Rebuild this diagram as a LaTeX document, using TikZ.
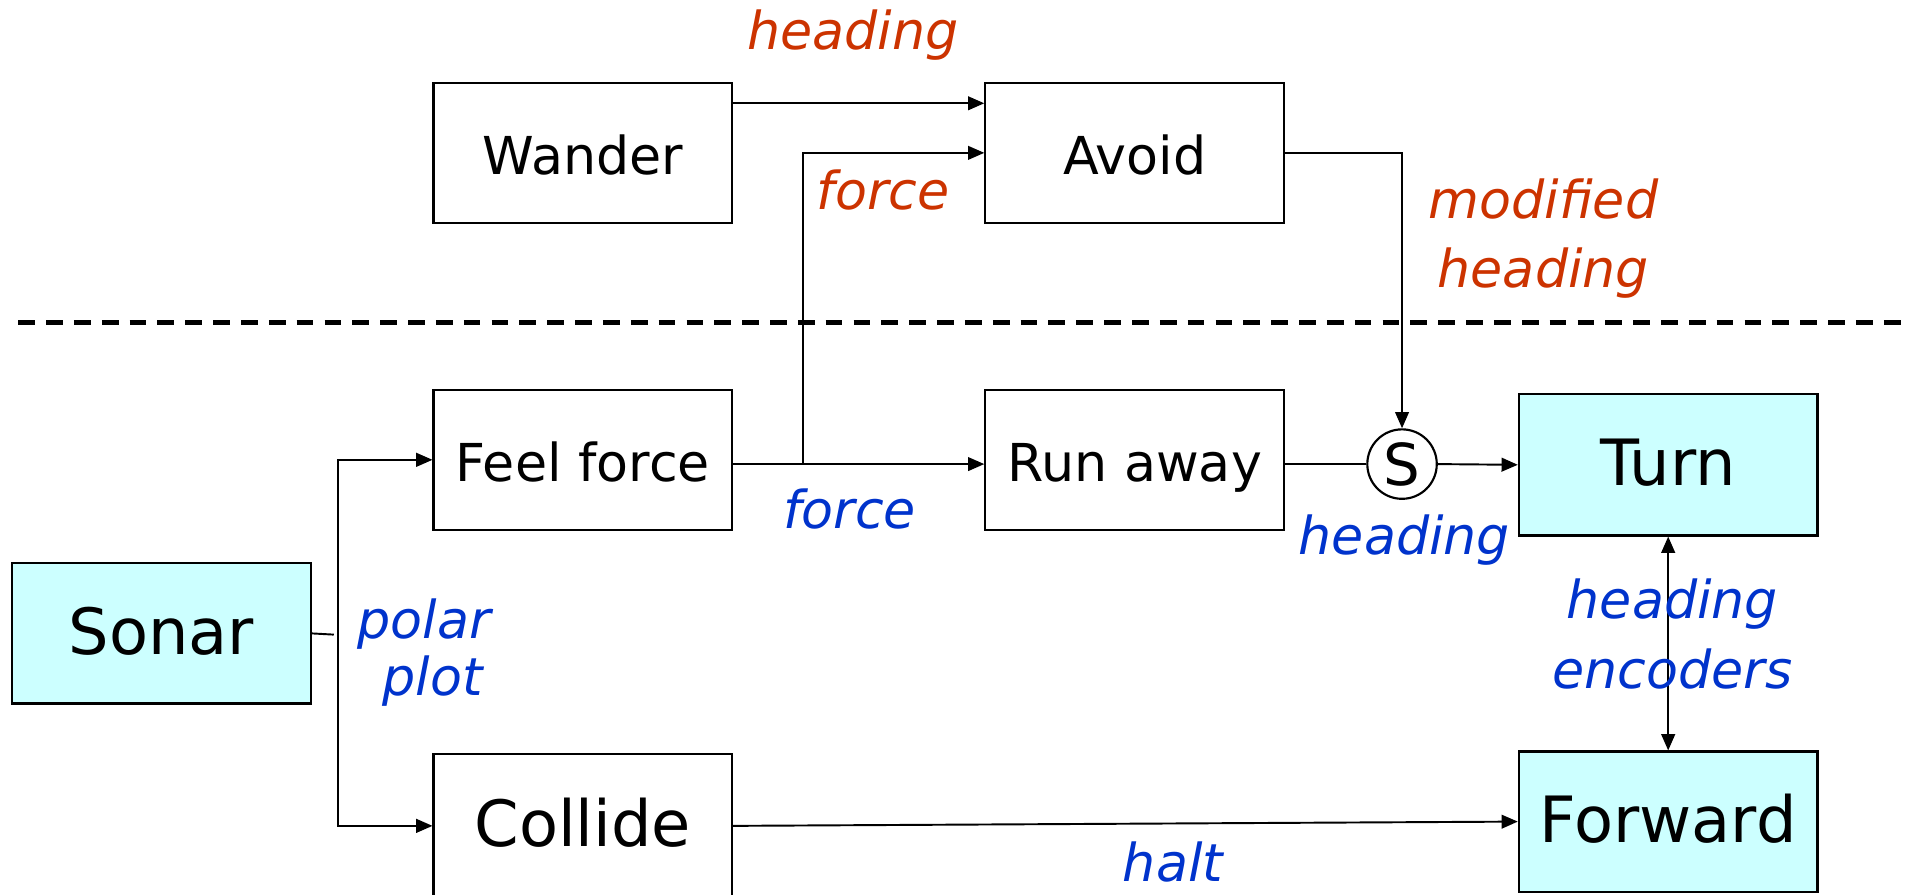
\documentclass[tikz,border=0pt]{standalone}
\usepackage{fontspec}
\setmainfont{DejaVu Sans}
\usetikzlibrary{arrows.meta}
\definecolor{lblred}{RGB}{204,51,0}
\definecolor{lblblue}{RGB}{0,51,204}
\definecolor{cyanfill}{RGB}{204,255,255}
\tikzset{
  boxnode/.style={draw=black, line width=0.5pt, inner sep=0pt, minimum width=2.45cm, minimum height=1.15cm,
    font=\fontsize{12.2}{14}\selectfont, text height=10.3pt, text depth=0pt},
  hwnode/.style={boxnode, fill=cyanfill, font=\fontsize{14.9}{17}\selectfont, text height=9.8pt},
  snode/.style={draw=black, line width=0.5pt, circle, inner sep=0pt, minimum size=0.57cm, font=\fontsize{13.5}{15}\selectfont},
  redlbl/.style={anchor=base, text=lblred, inner sep=0pt, font=\fontsize{12.2}{14}\selectfont\itshape},
  bluelbl/.style={anchor=base, text=lblblue, inner sep=0pt, font=\fontsize{12.2}{14}\selectfont\itshape},
  conn/.style={draw=black, line width=0.45pt},
  arr/.style={conn, -{Triangle[length=3.8pt, width=3.2pt]}},
  biarr/.style={conn, {Triangle[length=3.8pt, width=3.2pt]}-{Triangle[length=3.8pt, width=3.2pt]}},
  divider/.style={draw=black, line width=1.1pt, dash pattern=on 3.9pt off 2.6pt}
}
\begin{document}
\begin{tikzpicture}[x=0.01cm, y=-0.01cm]
\useasboundingbox (0,0) rectangle (1568,734);
\clip (0,0) rectangle (1568,734);

% boxes
\node[boxnode] (wander) at (478.5,125.5) {Wander};
\node[boxnode] (avoid) at (931.5,125.5) {Avoid};
\node[boxnode] (ff) at (478.5,377.5) {Feel force};
\node[boxnode] (ra) at (931.5,377.5) {Run away};
\node[hwnode, minimum height=1.16cm] (turn) at (1369.5,381.6) {Turn};
\node[hwnode] (sonar) at (132.5,520) {Sonar};
\node[boxnode, minimum height=1.18cm, font=\fontsize{14.9}{17}\selectfont, text height=9.8pt] (collide) at (478.5,678) {Collide};
\node[hwnode] (forward) at (1369.5,674.5) {Forward};
\node[snode] (S) at (1151,381) {S};

% divider
\coordinate (dl) at (15,264.6);
\coordinate (dr) at (1568,264.6);
\draw[divider] (dl) -- (dr);

% connectors
\draw[arr] (wander.east |- 0,84.8) -- (avoid.west |- 0,84.8);
\coordinate (j) at (659,381);
\draw[arr] (j) |- (avoid.west);
\draw[arr] (avoid.east) -| (S.north);
\draw[arr] (ff.east |- S.center) -- (ra.west |- S.center);
\draw[conn] (ra.east |- S.center) -- (S.west);
\draw[arr] (S.east) -- (turn.west);
\draw[biarr] (turn.south) -- (forward.north);
\coordinate (sonarend) at (274,521);
\draw[conn] (sonar.east) -- (sonarend);
\coordinate (bus) at (277.5,521);
\draw[arr] (bus) |- (ff.west);
\draw[arr] (bus) |- (collide.west);
\draw[arr] (collide.east) -- (forward.west);

% labels
\node[redlbl] (lh) at (700,41) {heading};
\node[redlbl, anchor=base west] (lf) at (670,171.8) {force};
\node[redlbl] (lm1) at (1267,179) {modified};
\node[redlbl] (lm2) at (1267,236) {heading};
\node[bluelbl] (bf) at (697.5,433.5) {force};
\node[bluelbl] (bh) at (1153,455.6) {heading};
\node[bluelbl] (bp1) at (348,524.4) {polar};
\node[bluelbl] (bp2) at (355,570.6) {plot};
\node[bluelbl] (bhe) at (1373,508) {heading};
\node[bluelbl] (be) at (1373,565.4) {encoders};
\node[bluelbl] (bha) at (963,724) {halt};
\end{tikzpicture}
\end{document}
